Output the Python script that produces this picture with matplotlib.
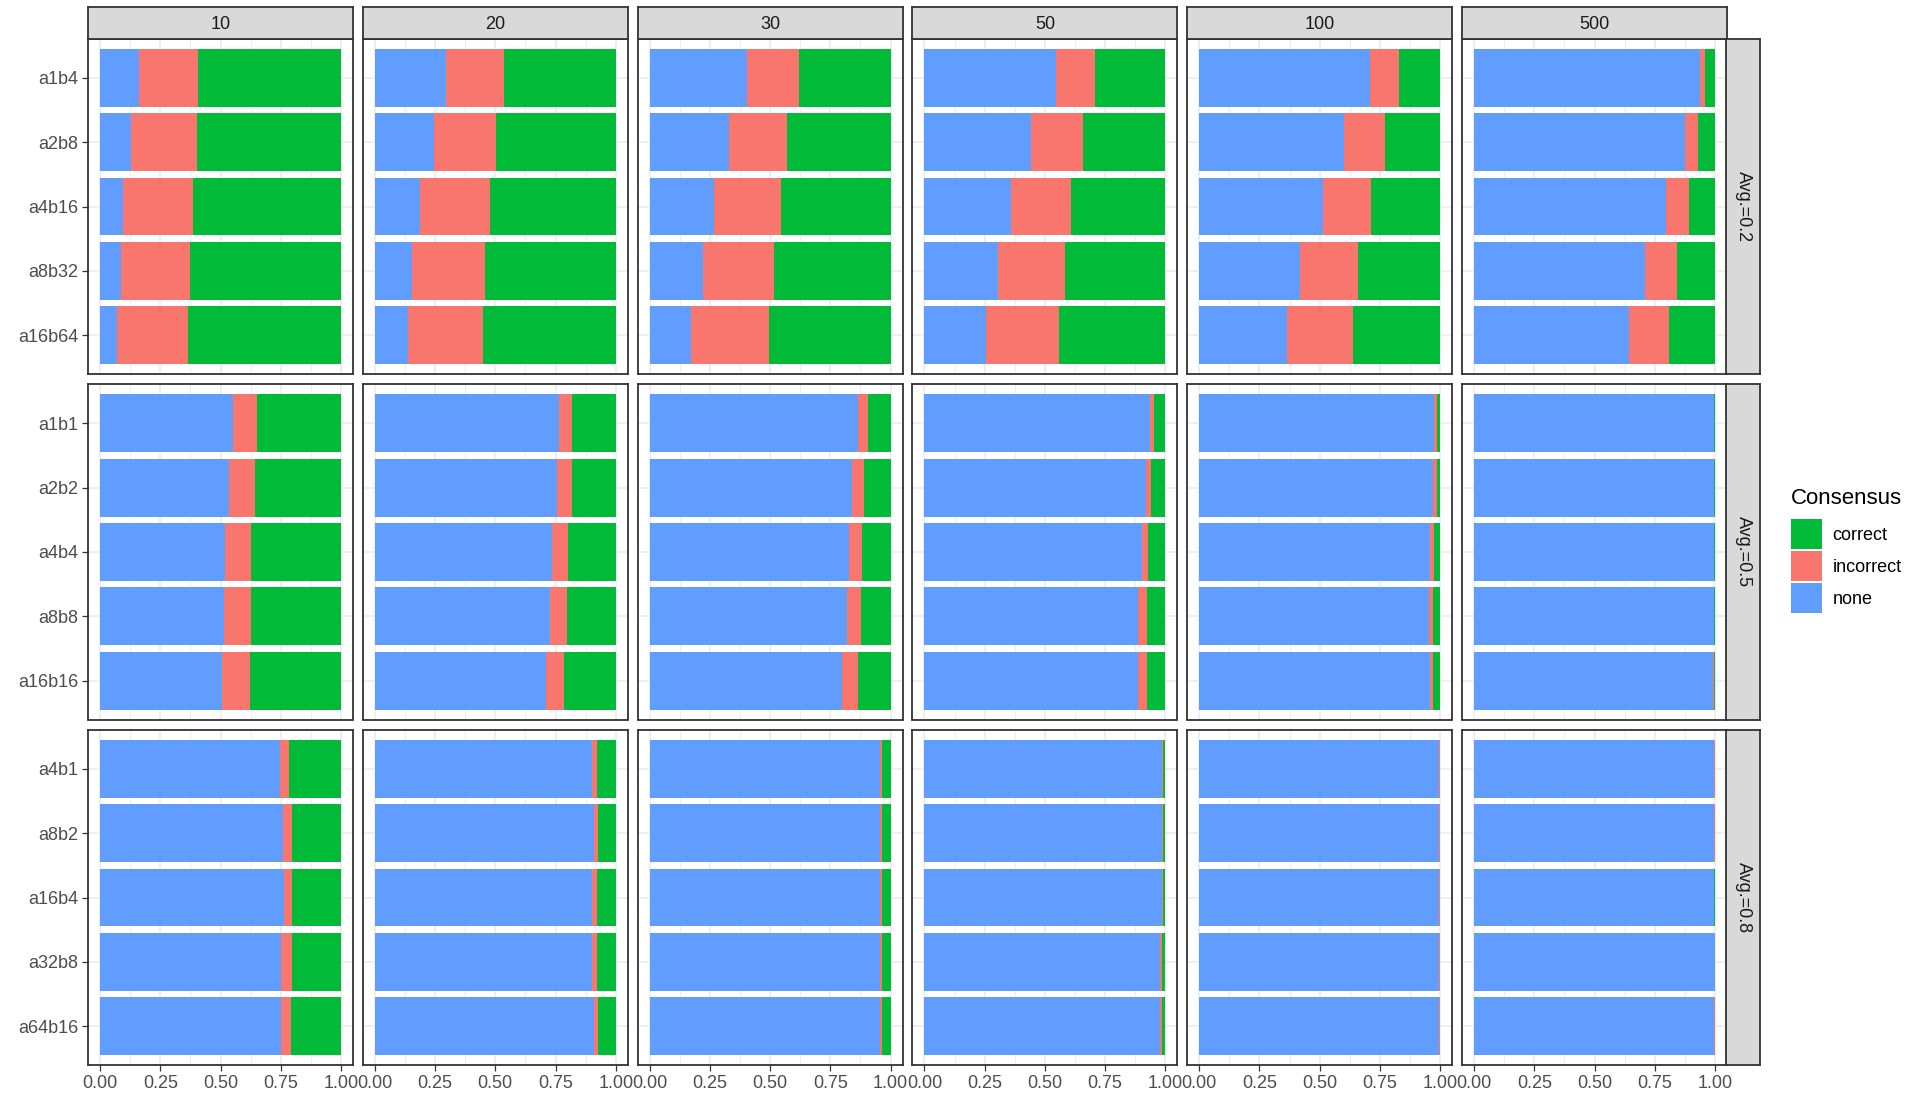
import matplotlib
matplotlib.use("Agg")
import matplotlib.pyplot as plt
from matplotlib.patches import Patch
import numpy as np

plt.rcParams['font.family'] = ['Liberation Sans', 'DejaVu Sans']

W, H = 1921, 1096

sizes = ["10", "20", "30", "50", "100", "500"]
groups = ["Avg.=0.2", "Avg.=0.5", "Avg.=0.8"]
configs = [
    ["a1b4", "a2b8", "a4b16", "a8b32", "a16b64"],
    ["a1b1", "a2b2", "a4b4", "a8b8", "a16b16"],
    ["a4b1", "a8b2", "a16b4", "a32b8", "a64b16"],
]
consensus = ["correct", "incorrect", "none"]
colors = {"correct": "#00BA38", "incorrect": "#F8766D", "none": "#619CFF"}

# shares per group -> per size -> per config (top to bottom)
none_share = [
    [[0.161, 0.129, 0.094, 0.085, 0.070],
     [0.297, 0.247, 0.186, 0.154, 0.136],
     [0.406, 0.330, 0.268, 0.222, 0.171],
     [0.547, 0.441, 0.359, 0.304, 0.257],
     [0.710, 0.601, 0.513, 0.418, 0.363],
     [0.937, 0.875, 0.798, 0.708, 0.644]],
    [[0.551, 0.534, 0.519, 0.514, 0.508],
     [0.766, 0.755, 0.736, 0.725, 0.710],
     [0.864, 0.842, 0.829, 0.818, 0.799],
     [0.935, 0.918, 0.905, 0.888, 0.888],
     [0.976, 0.971, 0.957, 0.952, 0.957],
     [0.997, 0.997, 0.997, 0.997, 0.993]],
    [[0.747, 0.758, 0.762, 0.750, 0.750],
     [0.903, 0.911, 0.903, 0.903, 0.911],
     [0.955, 0.955, 0.955, 0.955, 0.955],
     [0.988, 0.988, 0.988, 0.978, 0.978],
     [0.997, 0.997, 0.997, 0.997, 0.997],
     [0.997, 0.997, 0.997, 0.999, 0.997]],
]
incorrect_share = [
    [[0.247, 0.272, 0.290, 0.287, 0.296],
     [0.238, 0.257, 0.290, 0.303, 0.314],
     [0.214, 0.242, 0.279, 0.296, 0.324],
     [0.162, 0.218, 0.248, 0.279, 0.302],
     [0.118, 0.172, 0.201, 0.241, 0.274],
     [0.021, 0.054, 0.094, 0.133, 0.164]],
    [[0.100, 0.111, 0.108, 0.113, 0.113],
     [0.054, 0.065, 0.065, 0.071, 0.074],
     [0.041, 0.046, 0.052, 0.059, 0.065],
     [0.018, 0.022, 0.024, 0.034, 0.034],
     [0.009, 0.014, 0.019, 0.019, 0.012],
     [0.000, 0.000, 0.000, 0.000, 0.004]],
    [[0.039, 0.039, 0.035, 0.047, 0.041],
     [0.019, 0.017, 0.019, 0.019, 0.017],
     [0.010, 0.010, 0.010, 0.010, 0.010],
     [0.003, 0.003, 0.003, 0.007, 0.007],
     [0.003, 0.003, 0.003, 0.003, 0.003],
     [0.003, 0.003, 0.000, 0.001, 0.003]],
]
correct_share = [
    [[0.592, 0.599, 0.616, 0.628, 0.634],
     [0.465, 0.496, 0.524, 0.543, 0.550],
     [0.380, 0.428, 0.453, 0.482, 0.505],
     [0.291, 0.341, 0.393, 0.417, 0.441],
     [0.172, 0.227, 0.286, 0.341, 0.363],
     [0.042, 0.071, 0.108, 0.159, 0.192]],
    [[0.349, 0.355, 0.373, 0.373, 0.379],
     [0.180, 0.180, 0.199, 0.204, 0.216],
     [0.095, 0.112, 0.119, 0.123, 0.136],
     [0.047, 0.060, 0.071, 0.078, 0.078],
     [0.015, 0.015, 0.024, 0.029, 0.031],
     [0.003, 0.003, 0.003, 0.003, 0.003]],
    [[0.214, 0.203, 0.203, 0.203, 0.209],
     [0.078, 0.072, 0.078, 0.078, 0.072],
     [0.035, 0.035, 0.035, 0.035, 0.035],
     [0.009, 0.009, 0.009, 0.015, 0.015],
     [0.000, 0.000, 0.000, 0.000, 0.000],
     [0.000, 0.000, 0.003, 0.000, 0.000]],
]

x_ticks = [0.0, 0.25, 0.5, 0.75, 1.0]
x_minor = [0.125, 0.375, 0.625, 0.875]

BORDER = "#333333"
GRID = "#EBEBEB"


def frac(x, y, w, h):
    # pixel box (top-left origin) -> figure fraction
    return [x / W, 1 - (y + h) / H, w / W, h / H]


def strip(box, label, rotation=0):
    st = fig.add_axes(box)
    st.set_facecolor("#D9D9D9")
    st.set_xticks([])
    st.set_yticks([])
    for sp in st.spines.values():
        sp.set_color(BORDER)
        sp.set_linewidth(1.3)
    st.text(0.5, 0.45 if rotation == 0 else 0.5, label, ha="center", va="center",
            rotation=rotation, fontsize=13, color="#1A1A1A", transform=st.transAxes)


fig = plt.figure(figsize=(W / 100, H / 100), dpi=100)

panel_w, panel_h = 265, 335
for r, group in enumerate(groups):
    top = 39 + r * 345.5
    for c, size in enumerate(sizes):
        left = 88 + c * 274.8
        ax = fig.add_axes(frac(left, top, panel_w, panel_h))

        ypos = np.arange(len(configs[r]), 0, -1)
        none = np.array(none_share[r][c])
        inc = np.array(incorrect_share[r][c])
        corr = np.array(correct_share[r][c])
        ax.barh(ypos, none, height=0.9, color=colors["none"], linewidth=0)
        ax.barh(ypos, inc, left=none, height=0.9, color=colors["incorrect"], linewidth=0)
        ax.barh(ypos, corr, left=none + inc, height=0.9, color=colors["correct"], linewidth=0)

        ax.set_xlim(-0.05, 1.05)
        ax.set_ylim(0.4, 5.6)
        ax.set_xticks(x_ticks)
        ax.set_xticks(x_minor, minor=True)
        ax.set_yticks(ypos)
        ax.set_axisbelow(True)
        ax.grid(which="major", color=GRID, linewidth=1.1)
        ax.grid(which="minor", axis="x", color=GRID, linewidth=0.6)
        for sp in ax.spines.values():
            sp.set_color(BORDER)
            sp.set_linewidth(1.3)

        ax.tick_params(which="major", length=4, width=0.9, color=BORDER,
                       labelsize=13, labelcolor="#4D4D4D", pad=3)
        ax.tick_params(which="minor", length=0)
        if c == 0:
            ax.set_yticklabels(configs[r])
        else:
            ax.tick_params(axis="y", left=False, labelleft=False)
        if r == len(groups) - 1:
            ax.set_xticklabels(["%.2f" % t for t in x_ticks])
        else:
            ax.tick_params(axis="x", bottom=False, labelbottom=False)

        if r == 0:
            strip(frac(left, 7, panel_w, 32), size)

    strip(frac(1726, top, 34, panel_h), group, rotation=-90)

# legend: title placed on its own so the gap above the keys can be set
fig.text(1791 / W, 1 - 499 / H, "Consensus", ha="left", va="center",
         fontsize=16, color="black")
handles = [Patch(facecolor=colors[k], edgecolor="none", label=k) for k in consensus]
fig.legend(handles=handles, loc="upper left",
           bbox_to_anchor=(1791 / W, 1 - 519 / H), frameon=False,
           fontsize=13, handlelength=1.7, handleheight=2.18,
           handletextpad=0.6, labelspacing=0.12, borderpad=0, borderaxespad=0)

fig.savefig("out.png", dpi=100)
